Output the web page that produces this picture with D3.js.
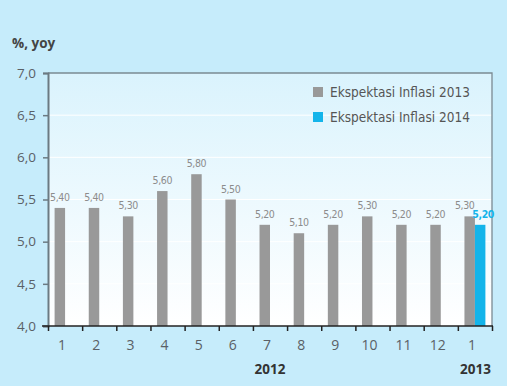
<!DOCTYPE html>
<html>
<head>
<meta charset="utf-8">
<script src="https://cdn.jsdelivr.net/npm/d3@7"></script>
<style>
  body { margin: 0; background: #c6ecfb; }
  svg { display: block; }
  text { font-family: "Liberation Sans Narrow", "DejaVu Sans Condensed", "Open Sans", sans-serif; }
</style>
</head>
<body>
<div class="chart"></div>
<script>
var months = ["1","2","3","4","5","6","7","8","9","10","11","12","1"];
var years = [{label: "2012", at: 6}, {label: "2013", at: 12}];
var exp2013 = [5.40, 5.40, 5.30, 5.60, 5.80, 5.50, 5.20, 5.10, 5.20, 5.30, 5.20, 5.20, 5.30];
var exp2014 = [null, null, null, null, null, null, null, null, null, null, null, null, 5.20];
var series = ["Ekspektasi Inflasi 2013", "Ekspektasi Inflasi 2014"];
var colors = ["#999999", "#13b4ea"];
var yTicks = [4.0, 4.5, 5.0, 5.5, 6.0, 6.5, 7.0];

var w = 507, h = 386;
var pLeft = 48, pRight = 492, pTop = 73, pBottom = 326;

var svg = d3.select(".chart").append("svg")
    .attr("width", w)
    .attr("height", h);

var defs = svg.append("defs");
var grad = defs.append("linearGradient")
    .attr("id", "bg")
    .attr("x1", 0).attr("y1", 0).attr("x2", 0).attr("y2", 1);
grad.append("stop").attr("offset", "0%").attr("stop-color", "#daf3fd");
grad.append("stop").attr("offset", "100%").attr("stop-color", "#ffffff");

var fmt = function(v) { return v.toFixed(2).replace(".", ","); };

var xScale = d3.scaleBand()
    .domain(d3.range(months.length))
    .range([pLeft, pRight])
    .paddingInner(0)
    .paddingOuter(0);

var x1 = d3.scaleBand()
    .domain([0, 1])
    .range([0, xScale.bandwidth()])
    .paddingOuter(0.63)
    .paddingInner(0);

var yScale = d3.scaleLinear()
    .domain([4, 7])
    .range([pBottom, pTop]);

// plot background
svg.append("rect")
    .attr("x", pLeft).attr("y", pTop)
    .attr("width", pRight - pLeft).attr("height", pBottom - pTop)
    .attr("fill", "url(#bg)");

// faint grid
svg.append("g").selectAll("line")
    .data(yTicks.slice(1, -1))
    .enter().append("line")
    .attr("x1", pLeft).attr("x2", pRight)
    .attr("y1", function(d) { return yScale(d); })
    .attr("y2", function(d) { return yScale(d); })
    .attr("stroke", "#ffffff")
    .attr("stroke-width", 1);

// frame top/right
svg.append("path")
    .attr("d", `M${pLeft},${pTop}H${pRight}V${pBottom}`)
    .attr("fill", "none")
    .attr("stroke", "#7b8a92")
    .attr("stroke-width", 1.3);

// bars
var groups = [exp2013, exp2014];
groups.forEach(function(vals, s) {
    var pts = vals.map(function(v, i) { return {i: i, v: v}; }).filter(function(d) { return d.v !== null; });
    svg.append("g").selectAll("rect")
        .data(pts)
        .enter().append("rect")
        .attr("x", function(d) { return xScale(d.i) + x1(s); })
        .attr("width", x1.bandwidth())
        .attr("y", function(d) { return yScale(d.v); })
        .attr("height", function(d) { return yScale(4) - yScale(d.v); })
        .attr("fill", colors[s]);

    svg.append("g").selectAll("text")
        .data(pts)
        .enter().append("text")
        .attr("x", function(d) {
            var shift = 0;
            if (s == 0 && exp2014[d.i] !== null) shift = -5;
            if (s == 1) shift = 3;
            return xScale(d.i) + x1(s) + x1.bandwidth() / 2 + shift;
        })
        .attr("y", function(d) { return yScale(d.v) - 7; })
        .attr("text-anchor", "middle")
        .attr("font-size", 10.5)
        .attr("font-weight", s == 1 ? "bold" : "normal")
        .attr("fill", s == 1 ? colors[1] : "#8c8c8c")
        .style("letter-spacing", "-0.4px")
        .text(function(d) { return fmt(d.v); });
});

// axes
var yAxis = d3.axisLeft(yScale)
    .tickValues(yTicks)
    .tickSize(5)
    .tickPadding(6)
    .tickFormat(function(d) { return d.toFixed(1).replace(".", ","); });

var gy = svg.append("g")
    .attr("transform", `translate(${pLeft},0)`)
    .call(yAxis);
gy.select(".domain").attr("stroke", "#6b7a82").attr("stroke-width", 2);
gy.selectAll(".tick line").attr("stroke", "#6b7a82").attr("stroke-width", 1.5);
gy.selectAll(".tick text").attr("font-size", 13.5).attr("fill", "#5a6066")
    .style("font-family", "'Open Sans', sans-serif").attr("dx", "-1");

var xTick = d3.scaleLinear().domain([0, months.length]).range([pLeft, pRight]);
var xAxis = d3.axisBottom(xTick)
    .tickValues(d3.range(months.length + 1))
    .tickSize(5)
    .tickFormat("");
var gx = svg.append("g")
    .attr("transform", `translate(0,${pBottom})`)
    .call(xAxis);
gx.select(".domain").remove();
gx.append("line").attr("x1", pLeft - 6).attr("x2", pRight + 1)
    .attr("stroke", "#222").attr("stroke-width", 1.5);
gx.selectAll(".tick line").attr("stroke", "#222").attr("stroke-width", 1.5);

svg.append("g").selectAll("text")
    .data(months)
    .enter().append("text")
    .attr("x", function(d, i) { return xScale(i) + xScale.bandwidth() / 2 - 3; })
    .attr("y", pBottom + 24)
    .attr("text-anchor", "middle")
    .attr("font-size", 14)
    .attr("fill", "#5a6066")
    .style("font-family", "'Open Sans', sans-serif")
    .text(function(d) { return d; });

svg.append("g").selectAll("text")
    .data(years)
    .enter().append("text")
    .attr("x", function(d, i) { return i == 0 ? xScale(d.at) + xScale.bandwidth() / 2 : pRight - 1; })
    .attr("y", pBottom + 48)
    .attr("text-anchor", function(d, i) { return i == 0 ? "middle" : "end"; })
    .attr("font-size", 13.5)
    .attr("font-weight", "bold")
    .attr("fill", "#333")
    .style("font-family", "'Open Sans', sans-serif")
    .text(function(d) { return d.label; });

svg.append("text")
    .attr("x", 12).attr("y", 48)
    .attr("font-size", 13.5)
    .attr("font-weight", "bold")
    .attr("fill", "#444")
    .style("font-family", "'Open Sans', sans-serif")
    .text("%, yoy");

// legend
var lg = svg.append("g").selectAll("g")
    .data(series)
    .enter().append("g")
    .attr("transform", function(d, i) { return `translate(313,${87 + i * 25})`; });
lg.append("rect").attr("width", 10).attr("height", 10)
    .attr("fill", function(d, i) { return colors[i]; });
lg.append("text").attr("x", 17).attr("y", 10)
    .attr("font-size", 13.5)
    .attr("fill", "#555")
    .text(function(d) { return d; });
</script>
</body>
</html>
